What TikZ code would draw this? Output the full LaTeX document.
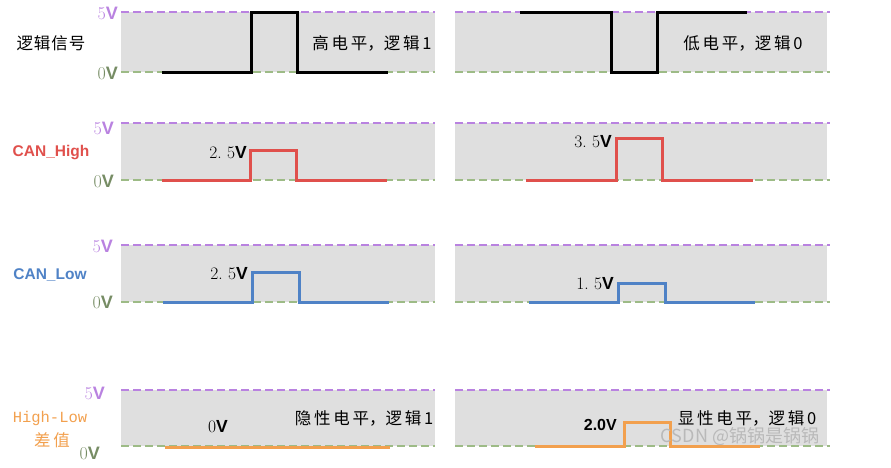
\documentclass[tikz,border=0pt]{standalone}
\usepackage{fontspec}
\setsansfont{Liberation Sans}
\setmonofont{Liberation Mono}
\newfontfamily\cjk{Noto Sans CJK SC}
\usepackage{xcolor}
\usetikzlibrary{positioning}
\definecolor{hipurple}{HTML}{B982E0}
\definecolor{logreen}{HTML}{9DBB86}
\definecolor{bandgray}{HTML}{DFDFDF}
\definecolor{canred}{HTML}{E0504C}
\definecolor{canblue}{HTML}{4F82C6}
\definecolor{difforange}{HTML}{F2A04E}
\newcommand{\lvl}[1]{#1\textsf{\bfseries V}}
\tikzset{%
  band/.style={fill=bandgray, draw=none},
  hiline/.style={color=hipurple, line width=2.6pt, dash pattern=on 8pt off 4pt},
  loline/.style={color=logreen, line width=2.6pt, dash pattern=on 8pt off 4pt},
  wave/.style={line width=3pt, line join=miter},
  cjktxt/.style={font=\cjk\fontsize{16.5}{18}\selectfont},
  voltlbl/.style={font=\fontsize{18}{20}\selectfont, inner sep=1pt},
  steplbl/.style={font=\fontsize{17.5}{19}\selectfont, inner sep=1pt, anchor=east}
}

\begin{document}
\begin{tikzpicture}[x=1pt,y=-1pt]
\useasboundingbox (0,0) rectangle (891,467);

% grey bands
\fill[band] (121,12) rectangle (435,72);
\fill[band] (455,12) rectangle (827,72);
\fill[band] (121,123) rectangle (435,180);
\fill[band] (455,123) rectangle (827,180);
\fill[band] (121,245) rectangle (435,302);
\fill[band] (455,245) rectangle (827,302);
\fill[band] (121,390) rectangle (435,446);
\fill[band] (455,390) rectangle (827,446);

% 5V / 0V levels
\draw[hiline] (121,12) -- (435,12);  \draw[hiline] (455,12) -- (830,12);
\draw[loline] (121,72) -- (435,72);  \draw[loline] (455,72) -- (830,72);
\draw[hiline] (121,123) -- (435,123);  \draw[hiline] (455,123) -- (830,123);
\draw[loline] (121,180) -- (435,180);  \draw[loline] (455,180) -- (830,180);
\draw[hiline] (121,245) -- (435,245);  \draw[hiline] (455,245) -- (830,245);
\draw[loline] (121,302) -- (435,302);  \draw[loline] (455,302) -- (830,302);
\draw[hiline] (121,390) -- (435,390);  \draw[hiline] (455,390) -- (830,390);
\draw[loline] (121,446) -- (435,446);  \draw[loline] (455,446) -- (830,446);

\node[voltlbl, text=hipurple, anchor=east] (hiA) at (119,13) {\lvl{5}};
\node[voltlbl, text=logreen!75!black, anchor=east] (loA) at (119,73) {\lvl{0}};
\node[voltlbl, text=hipurple, anchor=east] (hiB) at (115,128) {\lvl{5}};
\node[voltlbl, text=logreen!75!black, anchor=east] (loB) at (115,181) {\lvl{0}};
\node[voltlbl, text=hipurple, anchor=east] (hiC) at (114,246) {\lvl{5}};
\node[voltlbl, text=logreen!75!black, anchor=east] (loC) at (114,302) {\lvl{0}};
\node[voltlbl, text=hipurple, anchor=east] (hiD) at (106,393) {\lvl{5}};
\node[voltlbl, text=logreen!75!black, anchor=east] (loD) at (101,453) {\lvl{0}};

% row names
\node[cjktxt] (logic) at (51,43) {逻\hspace{1pt}辑\hspace{1pt}信\hspace{1pt}号};
\node[font=\sffamily\bfseries\fontsize{15.5}{17}\selectfont, text=canred] (canh) at (51,153) {CAN\_High};
\node[font=\sffamily\bfseries\fontsize{15.5}{17}\selectfont, text=canblue] (canl) at (50,275) {CAN\_Low};
\node[font=\ttfamily\fontsize{15.5}{17}\selectfont, text=difforange] (hl) at (50,418) {High-Low};
\node[cjktxt, text=difforange] (diff) at (52,440) {差\,值};

% waveforms
\draw[wave, black] (162,72) -- (251,72) -- (251,12) -- (297,12) -- (297,72) -- (388,72);
\draw[wave, black] (520,12) -- (611,12) -- (611,72) -- (657,72) -- (657,12) -- (747,12);
\draw[wave, canred] (162,180) -- (250,180) -- (250,150) -- (296,150) -- (296,180) -- (387,180);
\draw[wave, canred] (526,180) -- (616,180) -- (616,138) -- (662,138) -- (662,180) -- (753,180);
\draw[wave, canblue] (163,302) -- (252,302) -- (252,272) -- (299,272) -- (299,302) -- (389,302);
\draw[wave, canblue] (529,302) -- (618,302) -- (618,283) -- (665,283) -- (665,302) -- (755,302);
\draw[wave, difforange] (165,447) -- (390,447);
\draw[wave, difforange] (535,446) -- (624,446) -- (624,422) -- (670,422) -- (670,446) -- (760,446);

% step levels
\node[steplbl] (stA) at (248,153) {2.\ \lvl{5}};
\node[steplbl] (stB) at (613,142) {3.\ \lvl{5}};
\node[steplbl] (stC) at (249,274) {2.\ \lvl{5}};
\node[steplbl] (stD) at (615,284) {1.\ \lvl{5}};
\node[steplbl, anchor=center] (stE) at (218,427) {\lvl{0}};
\node[steplbl, font=\sffamily\bfseries\fontsize{16}{18}\selectfont] (stF) at (618,425) {2.0V};

% meaning
\node[cjktxt] (mA) at (372,43) {高\,电\,平，逻\,辑\,1};
\node[cjktxt] (mB) at (743,43) {低\,电\,平，逻\,辑\,0};
\node[cjktxt] (mC) at (364,418) {隐\,性\,电\,平，逻\,辑\,1};
\node[cjktxt] (mD) at (747,418) {显\,性\,电\,平，逻\,辑\,0};

\node[font=\cjk\fontsize{18}{20}\selectfont, text=gray!55] (mark) at (740,437) {CSDN @锅锅是锅锅};
\end{tikzpicture}
\end{document}
